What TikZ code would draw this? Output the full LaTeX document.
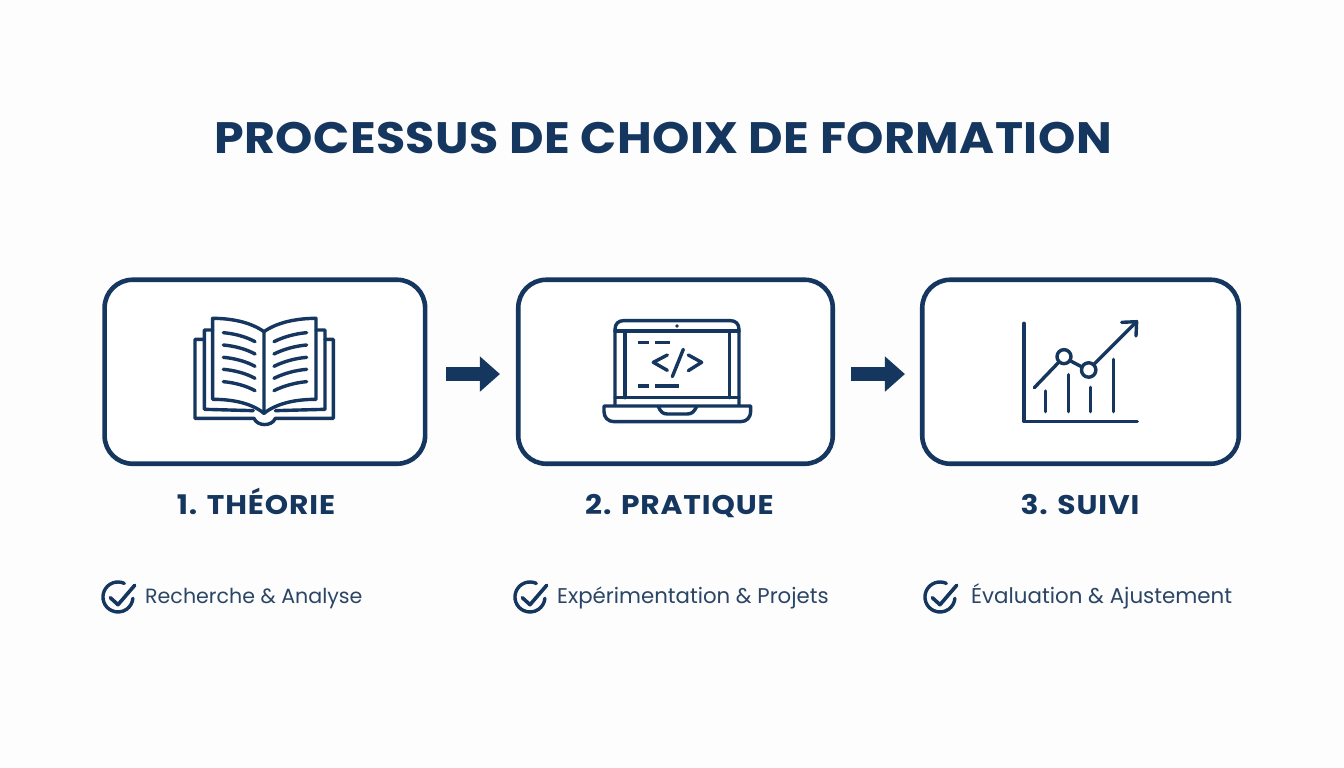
\documentclass[tikz,border=0pt]{standalone}
\usepackage{fontspec}
\setmainfont{Poppins}
\newfontfamily\bigfont[LetterSpace=1,FakeStretch=1.08]{Poppins}
\newfontfamily\stepfont[LetterSpace=3.3,FakeStretch=1.1]{Poppins}
\usetikzlibrary{arrows.meta}
\definecolor{navy}{HTML}{14365F}
\definecolor{subtxt}{HTML}{2A4566}
\definecolor{bg}{HTML}{FDFDFD}
\tikzset{
  stepbox/.style={draw=navy,line width=4.6pt,rounded corners=28pt,fill=white,minimum height=184pt,inner sep=0pt},
  blockarrow/.style={draw=navy,line width=13.5pt,-{Triangle[length=20pt,width=34pt,fill=navy]}},
  icon/.style={draw=navy,line width=3.4pt,line cap=round,line join=round},
  steptitle/.style={text=navy,font=\stepfont\bfseries\fontsize{27}{30}\selectfont,anchor=base,inner sep=0pt},
  subtitle/.style={text=subtxt,anchor=base west,inner sep=0pt},
  maintitle/.style={text=navy,font=\bigfont\bfseries\fontsize{44}{52}\selectfont,anchor=base,inner sep=0pt},
  checkmark/.pic={
    \draw[draw=navy,line width=3.4pt,line cap=round] (6.3,-13.6) arc[start angle=65,end angle=355,radius=15pt];
    \draw[draw=navy,line width=3.6pt,line cap=round,line join=round] (-7.7,0.7) -- (0,7.7) -- (16.7,-11.7);
  }
}
\begin{document}
\begin{tikzpicture}[x=1pt,y=-1pt]
\useasboundingbox[fill=bg] (0,0) rectangle (1344,768);
\node[maintitle] (title) at (663,153) {PROCESSUS DE CHOIX DE FORMATION};
\node[stepbox,minimum width=320.5pt] (b1) at (264.85,371.75) {};
\node[stepbox,minimum width=314.5pt] (b2) at (675.5,371.75) {};
\node[stepbox,minimum width=316.5pt] (b3) at (1080.5,371.75) {};
\draw[blockarrow,shorten <=18.7pt,shorten >=16pt] ([yshift=-2.3pt]b1.east) -- ([yshift=-2.3pt]b2.west);
\draw[blockarrow,shorten <=16pt,shorten >=15pt] ([yshift=-2.3pt]b2.east) -- ([yshift=-2.3pt]b3.west);
\node[steptitle] (t1) at (256,514) {1. THÉORIE};
\node[steptitle] (t2) at (679.5,514) {2. PRATIQUE};
\node[steptitle] (t3) at (1080,514) {3. SUIVI};
\pic at (118,597) {checkmark};
\pic at (530,597) {checkmark};
\pic at (940,597) {checkmark};
\node[subtitle,font=\fontsize{20.6}{24}\selectfont] (s1) at (145,603.5) {Recherche \& Analyse};
\node[subtitle,font=\fontsize{21.3}{24}\selectfont] (s2) at (557,603.5) {Expérimentation \& Projets};
\node[subtitle,font=\fontsize{21.4}{24}\selectfont] (s3) at (971,603.5) {Évaluation \& Ajustement};
% book
\begin{scope}[shift={(170,300)},x=0.3333pt,y=-0.3333pt]
\draw[icon] (282,95) .. controls (240,65) and (180,55) .. (128,55) -- (128,298) .. controls (190,298) and (245,310) .. (282,340);
\draw[icon] (282,95) .. controls (324,65) and (386,55) .. (438,55) -- (438,298) .. controls (376,298) and (320,310) .. (282,340) -- cycle;
\draw[icon] (128,90) -- (103,90) -- (103,328) -- (250,332);
\draw[icon] (438,90) -- (465,90) -- (465,328) -- (316,332);
\draw[icon] (103,118) -- (75,118) -- (75,355) -- (252,355) .. controls (262,380) and (306,380) .. (316,355) -- (490,355) -- (490,118) -- (465,118);
\foreach \yy in {98,135,172,208,245}{
  \draw[icon] (160,\yy) .. controls (195,\yy+3) and (230,\yy+13) .. (255,\yy+27);
  \draw[icon] (410,\yy) .. controls (375,\yy+3) and (340,\yy+13) .. (312,\yy+27);
}
\end{scope}
% laptop
\begin{scope}[shift={(590,300)},x=0.3333pt,y=-0.3333pt]
\draw[icon] (75,315) -- (75,88) .. controls (75,72) and (85,62) .. (100,62) -- (422,62) .. controls (437,62) and (447,72) .. (447,88) -- (447,315);
\draw[icon] (75,93) -- (447,93);
\draw[icon] (75,293) -- (447,293);
\draw[icon] (105,93) -- (105,293);
\draw[icon] (418,93) -- (418,293);
\draw[icon] (42,318) -- (482,318) -- (482,335) .. controls (482,352) and (470,365) .. (452,365) -- (72,365) .. controls (54,365) and (42,352) .. (42,335) -- cycle;
\draw[icon] (205,320) .. controls (212,335) and (218,342) .. (232,342) -- (292,342) .. controls (306,342) and (312,335) .. (320,320);
\fill[navy] (261,78) circle[radius=1.8pt];
\draw[icon,line cap=butt] (145,128) -- (178,128) (195,128) -- (240,128) (145,258) -- (178,258) (195,258) -- (267,258);
\draw[icon] (232,165) -- (190,187) -- (232,211);
\draw[icon] (295,165) -- (335,187) -- (295,212);
\draw[icon] (280,148) -- (247,230);
\end{scope}
% chart
\begin{scope}[shift={(1000,300)},x=0.3333pt,y=-0.3333pt]
\draw[icon] (72,70) -- (72,365) -- (412,365);
\draw[icon] (136,273) -- (136,335);
\draw[icon] (205,224) -- (205,335);
\draw[icon] (272,262) -- (272,335);
\draw[icon] (340,178) -- (340,335);
\draw[icon] (103,263) -- (175,188);
\draw[icon] (192,170) circle[radius=7pt];
\draw[icon] (212,183) -- (246,201);
\draw[icon] (266,210) circle[radius=7.2pt];
\draw[icon] (283,192) -- (410,65);
\draw[icon] (365,67) -- (410,65) -- (408,108);
\end{scope}
\end{tikzpicture}
\end{document}
